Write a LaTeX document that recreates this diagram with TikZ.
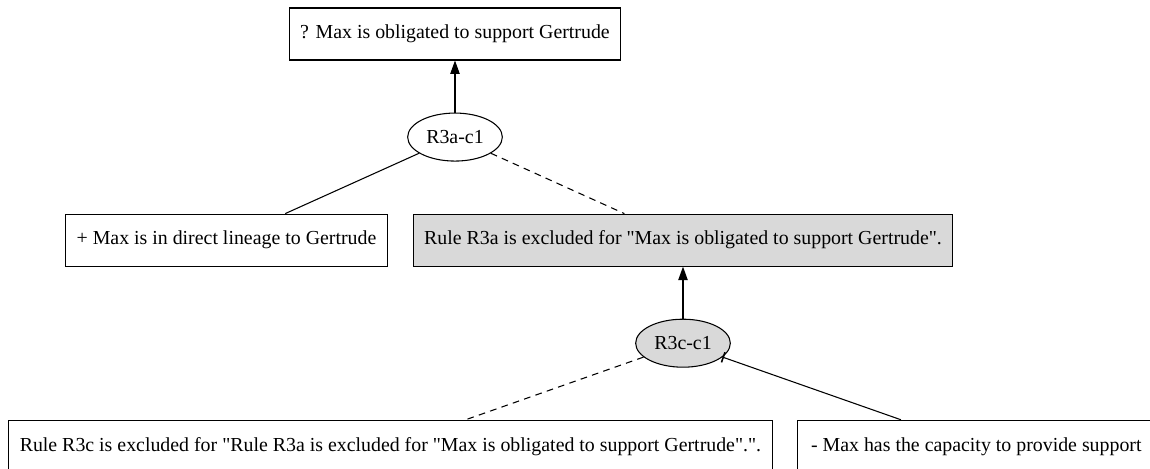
\documentclass[tikz,border=0pt]{standalone}
\usepackage{fontspec}
\setmainfont{Liberation Serif}[Ligatures=TeXOff]
\usepackage{tikz}
\usetikzlibrary{positioning,shapes.geometric,arrows.meta}
\definecolor{exclgray}{HTML}{D9D9D9}
\tikzset{
  claim/.style = {rectangle, draw=black, line width=0.8pt,
                  minimum height=39pt, inner xsep=8.25pt,
                  font=\fontsize{14.9}{18}\selectfont},
  excluded/.style = {claim, fill=exclgray},
  argnode/.style = {ellipse, draw=black, line width=0.8pt,
                    minimum width=71pt, minimum height=36pt, inner sep=0pt,
                    font=\fontsize{14.9}{18}\selectfont},
  arrow/.style = {line width=0.8pt, -{Triangle[length=10pt,width=7pt]}},
  proline/.style = {line width=0.8pt},
  conline/.style = {line width=0.8pt, dash pattern=on 5pt off 4pt},
  undercut/.style = {line width=0.8pt, -{Bar[width=8pt,line width=1.2pt]}}
}

\begin{document}
\begin{tikzpicture}[node distance=39pt]

\useasboundingbox (-341.25pt,-325.5pt) rectangle (521.25pt,25.5pt);

\node (goal)     [claim]                                 {? Max is obligated to support Gertrude};
\node (r3a)      [argnode, below=of goal]                {R3a-c1};
\node (lineage)  [claim, below=of r3a, xshift=-171.4pt]  {+ Max is in direct lineage to Gertrude};
\node (r3aexcl)  [excluded, below=of r3a, xshift=171pt]  {Rule R3a is excluded for "Max is obligated to support Gertrude".};
\node (r3c)      [argnode, fill=exclgray, below=of r3aexcl] {R3c-c1};
\node (r3cexcl)  [claim, below=of r3c, xshift=-219.4pt]  {Rule R3c is excluded for "Rule R3a is excluded for "Max is obligated to support Gertrude".".};
\node (capacity) [claim, below=of r3c, xshift=220pt, inner xsep=10pt] {- Max has the capacity to provide support};

\draw[arrow] (r3a) -- (goal);
\draw[proline] (r3a) -- (lineage);
\draw[conline] (r3a) -- (r3aexcl);
\draw[arrow] (r3c) -- (r3aexcl);
\draw[conline] (r3c) -- (r3cexcl);
\draw[undercut] (capacity) -- (r3c);

\end{tikzpicture}
\end{document}
